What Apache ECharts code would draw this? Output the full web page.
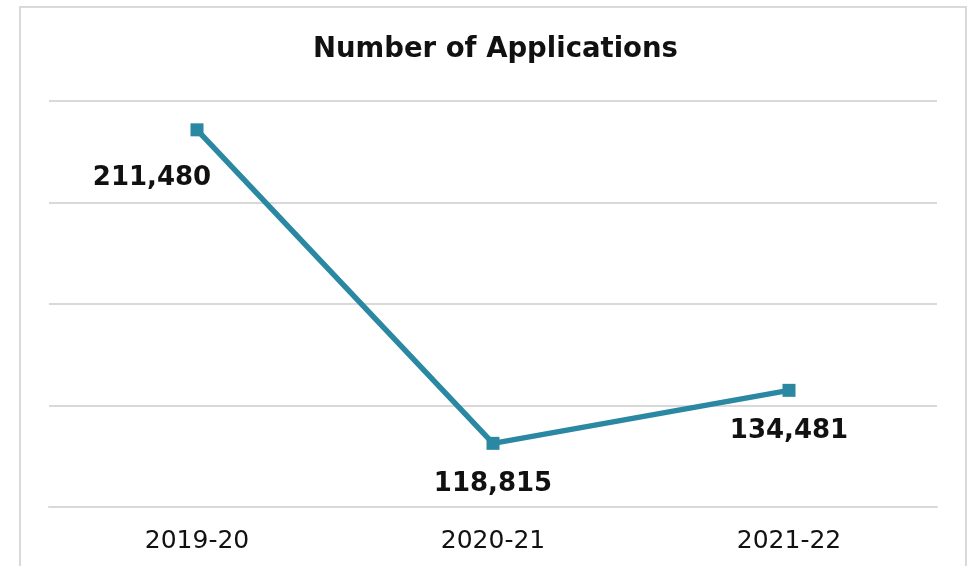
<!DOCTYPE html>
<html>
<head>
<meta charset="utf-8">
<title>Number of Applications</title>
<script src="https://cdn.jsdelivr.net/npm/echarts@6/dist/echarts.min.js"></script>
<style>
  html, body { margin: 0; padding: 0; background: #fff; }
  #main { width: 972px; height: 566px; }
</style>
</head>
<body>
<div id="main"></div>
<script>
var years = ['2019-20', '2020-21', '2021-22'];
var applications = [211480, 118815, 134481];
// first label sits to the lower left of its point in the original
var labelOffsets = [[-45, 8], [0, 0], [0, 0]];

var chart = echarts.init(document.getElementById('main'));

var lineColor = '#2b88a3';
var gridColor = '#d9d9d9';

chart.setOption({
  backgroundColor: '#fff',
  animation: false,
  title: {
    text: 'Number of Applications',
    left: 308,
    top: 31,
    textStyle: { fontFamily: 'DejaVu Sans', fontSize: 27.5, fontWeight: 'bold', color: '#111' }
  },
  graphic: [{
    type: 'rect',
    shape: { x: 20, y: 7, width: 946, height: 620 },
    style: { fill: 'none', stroke: gridColor, lineWidth: 2 },
    silent: true
  }],
  grid: { left: 49, right: 35, top: 101, bottom: 59 },
  xAxis: {
    type: 'category',
    data: years,
    axisLine: { lineStyle: { color: gridColor, width: 2 } },
    axisTick: { show: false },
    axisLabel: { margin: 22, fontFamily: 'DejaVu Sans', fontSize: 25, color: '#111' }
  },
  yAxis: {
    type: 'value',
    min: 100000,
    max: 220000,
    interval: 30000,
    axisLabel: { show: false },
    axisLine: { show: false },
    axisTick: { show: false },
    splitLine: { lineStyle: { color: gridColor, width: 2 } }
  },
  series: [{
    type: 'line',
    data: applications.map(function (v, i) {
      return { value: v, label: { offset: labelOffsets[i] } };
    }),
    symbol: 'rect',
    symbolSize: 13,
    lineStyle: { color: lineColor, width: 5.5 },
    itemStyle: { color: lineColor },
    label: {
      show: true,
      position: 'bottom',
      distance: 21,
      fontFamily: 'DejaVu Sans',
      fontSize: 26,
      fontWeight: 'bold',
      color: '#111',
      formatter: function (p) { return p.value.toLocaleString('en-US'); }
    }
  }]
});

window.addEventListener('resize', function () { chart.resize(); });
</script>
</body>
</html>
